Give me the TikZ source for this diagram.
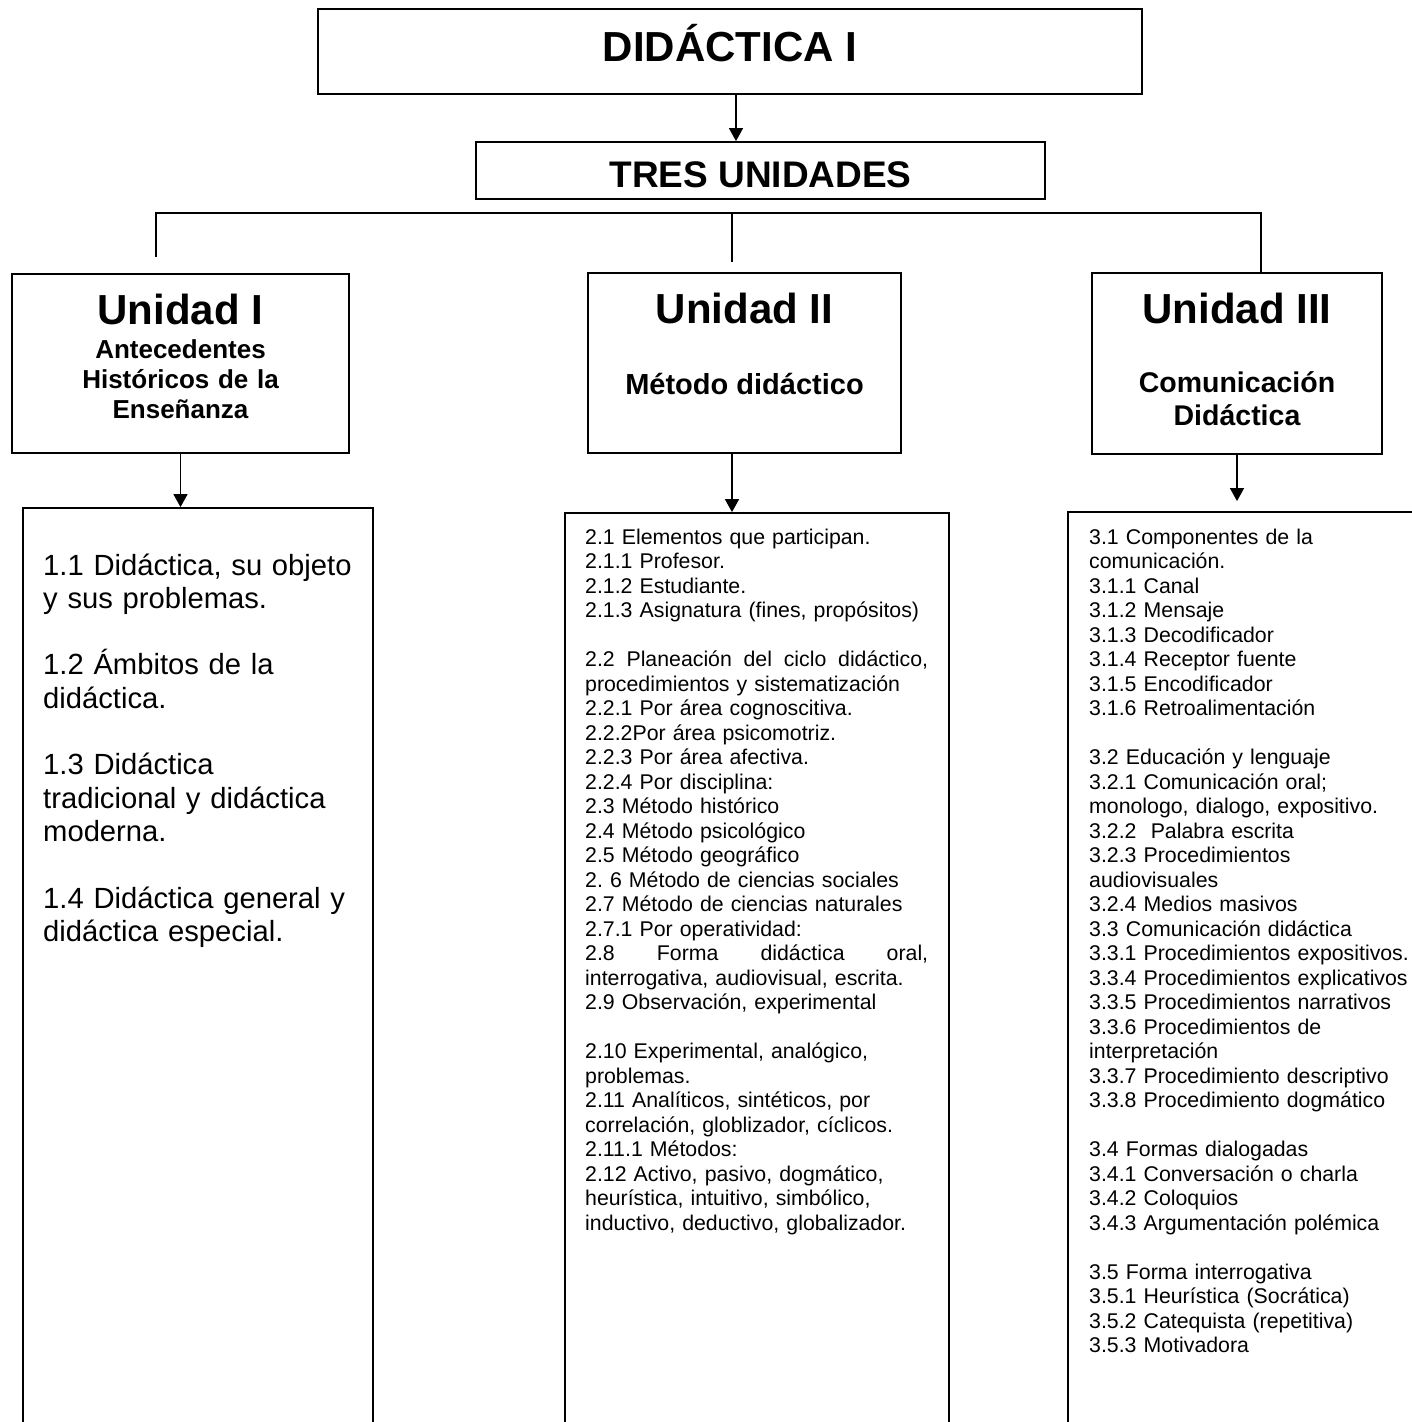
\documentclass[tikz,border=0pt]{standalone}
\usepackage{fontspec}
\setmainfont{Liberation Sans}
\usetikzlibrary{arrows.meta}
\frenchspacing

\begin{document}
\begin{tikzpicture}[x=1pt, y=-1pt,
		caja/.style={draw, line width=1.8pt, inner sep=0pt},
		linea/.style={line width=1.5pt},
		flecha/.style={line width=1.5pt, -{Triangle[length=13pt, width=14pt]}},
		texto/.style={inner sep=0pt, anchor=base},
		lista/.style={inner sep=0pt, anchor=base west, align=left}]
			%%%%% START %%%%%
			
			\useasboundingbox (0, 0) rectangle (1412, 1422);
			\clip (0, 0) rectangle (1412, 1422);
			
			\node[caja, minimum width=824, minimum height=85] (didactica) at (730, 51.5) {};
			\node[texto, font=\bfseries\fontsize{42}{48}\selectfont] (didacticaT) at (730, 61) {DIDÁCTICA I};
			
			\node[caja, minimum width=569, minimum height=57] (tres) at (760.5, 170.5) {};
			\node[texto, font=\bfseries\fontsize{37}{42}\selectfont] (tresT) at (760.5, 187) {TRES UNIDADES};
			
			\draw[flecha] ([xshift=6pt]didactica.south) -- ([xshift=6pt]didactica.south |- tres.north);
			
			\node[caja, minimum width=337, minimum height=179] (unidad1) at (180.5, 363.5) {};
			\node[texto, font=\bfseries\fontsize{42}{48}\selectfont] (unidad1T) at (180.5, 324) {Unidad I};
			\node[texto, text width=320, align=center, font=\bfseries\fontsize{26}{30}\selectfont] (unidad1S) at (180.5, 358) {Antecedentes\\ Históricos de la\\ Enseñanza};
			
			\node[caja, minimum width=313, minimum height=180] (unidad2) at (744.5, 363) {};
			\node[texto, font=\bfseries\fontsize{42}{48}\selectfont] (unidad2T) at (744.5, 323) {Unidad II};
			\node[texto, font=\bfseries\fontsize{29}{33}\selectfont] (unidad2S) at (744.5, 394) {Método didáctico};
			
			\node[caja, minimum width=290, minimum height=181] (unidad3) at (1237, 363.5) {};
			\node[texto, font=\bfseries\fontsize{42}{48}\selectfont] (unidad3T) at (1237, 323) {Unidad III};
			\node[texto, text width=280, align=center, font=\bfseries\fontsize{28.5}{33}\selectfont] (unidad3S) at (1237, 392) {Comunicación\\ Didáctica};
			
			% ramas
			\coordinate (barra) at (732, 213);
			\coordinate (rama1) at (156, 257);
			\coordinate (rama2) at (732, 262);
			\coordinate (rama3) at ([xshift=24pt]unidad3.north);
			\draw[linea] (rama1) |- (barra) -| (rama3);
			\draw[linea] (barra) -- (rama2);
			
			\node[caja, minimum width=350, minimum height=942] (lista1) at (198, 979) {};
			\node[caja, minimum width=384, minimum height=937] (lista2) at (757, 981.5) {};
			\node[caja, minimum width=372, minimum height=938] (lista3) at (1254, 981) {};
			
			\draw[flecha] (unidad1.south) -- (unidad1.south |- lista1.north);
			\draw[flecha] ([xshift=-12.5pt]unidad2.south) -- ([xshift=-12.5pt]unidad2.south |- lista2.north);
			\draw[flecha] (unidad3.south) -- ([yshift=10pt]unidad3.south |- lista3.north);
			
			\node[lista, text width=325, font=\fontsize{29.2}{33.3}\selectfont] (lista1T) at (43, 575) {1.1 Didáctica, su objeto\\ y sus problemas.\\[33.3pt]
				1.2 Ámbitos de la\\ didáctica.\\[33.3pt]
				1.3 Didáctica\\ tradicional y didáctica\\ moderna.\\[33.3pt]
				1.4 Didáctica general y\\ didáctica especial.};
			
			\node[lista, text width=343, font=\fontsize{21.3}{24.5}\selectfont] (lista2T) at (585, 544) {2.1 Elementos que participan.\\
				2.1.1 Profesor.\\
				2.1.2 Estudiante.\\
				2.1.3 Asignatura (fines, propósitos)\\[24.5pt]
				2.2\hfill Planeación\hfill del\hfill ciclo\hfill didáctico,\\
				procedimientos y sistematización\\
				2.2.1 Por área cognoscitiva.\\
				2.2.2Por área psicomotriz.\\
				2.2.3 Por área afectiva.\\
				2.2.4 Por disciplina:\\
				2.3 Método histórico\\
				2.4 Método psicológico\\
				2.5 Método geográfico\\
				2. 6 Método de ciencias sociales\\
				2.7 Método de ciencias naturales\\
				2.7.1 Por operatividad:\\
				2.8\hfill Forma\hfill didáctica\hfill oral,\\
				interrogativa, audiovisual, escrita.\\
				2.9 Observación, experimental\\[24.5pt]
				2.10 Experimental, analógico,\\
				problemas.\\
				2.11 Analíticos, sintéticos, por\\
				correlación, globlizador, cíclicos.\\
				2.11.1 Métodos:\\
				2.12 Activo, pasivo, dogmático,\\
				heurística, intuitivo, simbólico,\\
				inductivo, deductivo, globalizador.};
			
			\node[lista, text width=330, font=\fontsize{21.3}{24.5}\selectfont] (lista3T) at (1089, 544) {3.1 Componentes de la\\
				comunicación.\\
				3.1.1 Canal\\
				3.1.2 Mensaje\\
				3.1.3 Decodificador\\
				3.1.4 Receptor fuente\\
				3.1.5 Encodificador\\
				3.1.6 Retroalimentación\\[24.5pt]
				3.2 Educación y lenguaje\\
				3.2.1 Comunicación oral;\\
				monologo, dialogo, expositivo.\\
				3.2.2~ Palabra escrita\\
				3.2.3 Procedimientos\\
				audiovisuales\\
				3.2.4 Medios masivos\\
				3.3 Comunicación didáctica\\
				3.3.1 Procedimientos expositivos.\\
				3.3.4 Procedimientos explicativos\\
				3.3.5 Procedimientos narrativos\\
				3.3.6 Procedimientos de\\
				interpretación\\
				3.3.7 Procedimiento descriptivo\\
				3.3.8 Procedimiento dogmático\\[24.5pt]
				3.4 Formas dialogadas\\
				3.4.1 Conversación o charla\\
				3.4.2 Coloquios\\
				3.4.3 Argumentación polémica\\[24.5pt]
				3.5 Forma interrogativa\\
				3.5.1 Heurística (Socrática)\\
				3.5.2 Catequista (repetitiva)\\
				3.5.3 Motivadora};
			
			%%%%% END %%%%%
\end{tikzpicture}
\end{document}
